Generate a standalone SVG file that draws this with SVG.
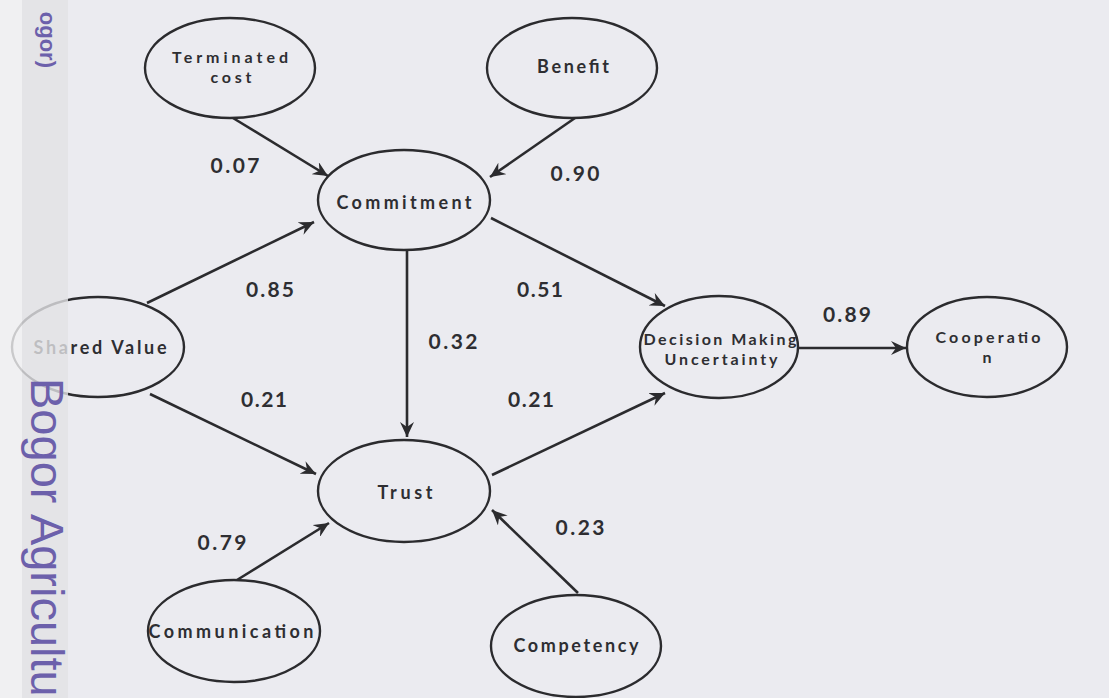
<svg xmlns="http://www.w3.org/2000/svg" width="1109" height="698" viewBox="0 0 1109 698">
<style>
.node ellipse{fill:none;stroke:#2b2b2e;stroke-width:2.4}
.lbl{font-family:Lato,"Open Sans","DejaVu Sans",sans-serif;font-weight:700;font-size:18px;fill:#2e2e32;text-anchor:middle}
.two{font-size:16px}
.num{font-family:Lato,"Open Sans","DejaVu Sans",sans-serif;font-weight:700;font-size:21px;fill:#2e2e32;text-anchor:middle}
.edge{stroke:#2b2b2e;stroke-width:2.6;fill:none;marker-end:url(#ah)}
.wm{font-family:"Liberation Sans",Arial,sans-serif;fill:#6c60ab}
</style>
<defs>
<marker id="ah" markerUnits="userSpaceOnUse" markerWidth="16" markerHeight="14" refX="15" refY="7" orient="auto">
<path d="M0,0 L15,7 L0,14 L5,7 Z" fill="#2b2b2e"/>
</marker>
</defs>
<rect x="0" y="0" width="1109" height="698" fill="#ebebf0"/>
<g id="connectors">
<line class="edge" x1="233" y1="118" x2="328" y2="176"/>
<line class="edge" x1="575" y1="118" x2="490" y2="177"/>
<line class="edge" x1="147" y1="303" x2="314" y2="222"/>
<line class="edge" x1="150" y1="394" x2="316" y2="474"/>
<line class="edge" x1="407" y1="250" x2="407" y2="437"/>
<line class="edge" x1="491" y1="218" x2="665" y2="306"/>
<line class="edge" x1="492" y1="475" x2="665" y2="393"/>
<line class="edge" x1="798" y1="348" x2="906" y2="348"/>
<line class="edge" x1="237" y1="580" x2="329" y2="523"/>
<line class="edge" x1="578" y1="593" x2="492" y2="510"/>
<text class="num" x="235" y="173" textLength="49">0.07</text>
<text class="num" x="575" y="181" textLength="49">0.90</text>
<text class="num" x="270" y="297" textLength="48">0.85</text>
<text class="num" x="264" y="407" textLength="46">0.21</text>
<text class="num" x="453" y="349" textLength="49">0.32</text>
<text class="num" x="540" y="297" textLength="46">0.51</text>
<text class="num" x="531" y="407" textLength="46">0.21</text>
<text class="num" x="847" y="322" textLength="48">0.89</text>
<text class="num" x="222" y="550" textLength="49">0.79</text>
<text class="num" x="580" y="535" textLength="49">0.23</text>
</g>
<g id="terminated-cost" class="node">
<ellipse cx="230" cy="68" rx="85" ry="50"/>
<text class="lbl two" x="230" y="63" textLength="116">Terminated</text>
<text class="lbl two" x="231" y="83" textLength="41">cost</text>
</g>
<g id="benefit" class="node">
<ellipse cx="572" cy="68" rx="85" ry="50"/>
<text class="lbl" x="573" y="73" textLength="72">Benefit</text>
</g>
<g id="commitment" class="node">
<ellipse cx="404" cy="200" rx="86" ry="50"/>
<text class="lbl" x="404" y="209" textLength="135">Commitment</text>
</g>
<g id="shared-value" class="node">
<ellipse cx="98" cy="347" rx="86" ry="50"/>
<text class="lbl" x="100" y="354" textLength="133">Shared Value</text>
</g>
<g id="decision-making-uncertainty" class="node">
<ellipse cx="719" cy="347" rx="79" ry="51"/>
<text class="lbl two" x="720" y="345" textLength="153">Decision Making</text>
<text class="lbl two" x="721" y="365" textLength="113">Uncertainty</text>
</g>
<g id="cooperation" class="node">
<ellipse cx="987" cy="347" rx="80" ry="50"/>
<text class="lbl two" x="988" y="343" textLength="105">Cooperatio</text>
<text class="lbl two" x="987" y="363">n</text>
</g>
<g id="trust" class="node">
<ellipse cx="404" cy="491" rx="86" ry="51"/>
<text class="lbl" x="405" y="499" textLength="55">Trust</text>
</g>
<g id="communication" class="node">
<ellipse cx="234" cy="631" rx="86" ry="51"/>
<text class="lbl" x="231" y="638" textLength="165">Communication</text>
</g>
<g id="competency" class="node">
<ellipse cx="576" cy="646" rx="85" ry="51"/>
<text class="lbl" x="576" y="652" textLength="125">Competency</text>
</g>
<rect x="0" y="0" width="22" height="698" fill="#f1f1f3" opacity="0.8"/>
<rect x="22" y="0" width="46" height="698" fill="#e2e2e5" opacity="0.8"/>
<text class="wm" transform="translate(40,0) rotate(90)" x="68" y="0" text-anchor="end" font-size="22" font-weight="700">ogor)</text>
<text class="wm" transform="translate(31,0) rotate(90)" x="378" y="0" font-size="47">Bogor Agricultu</text>
</svg>
